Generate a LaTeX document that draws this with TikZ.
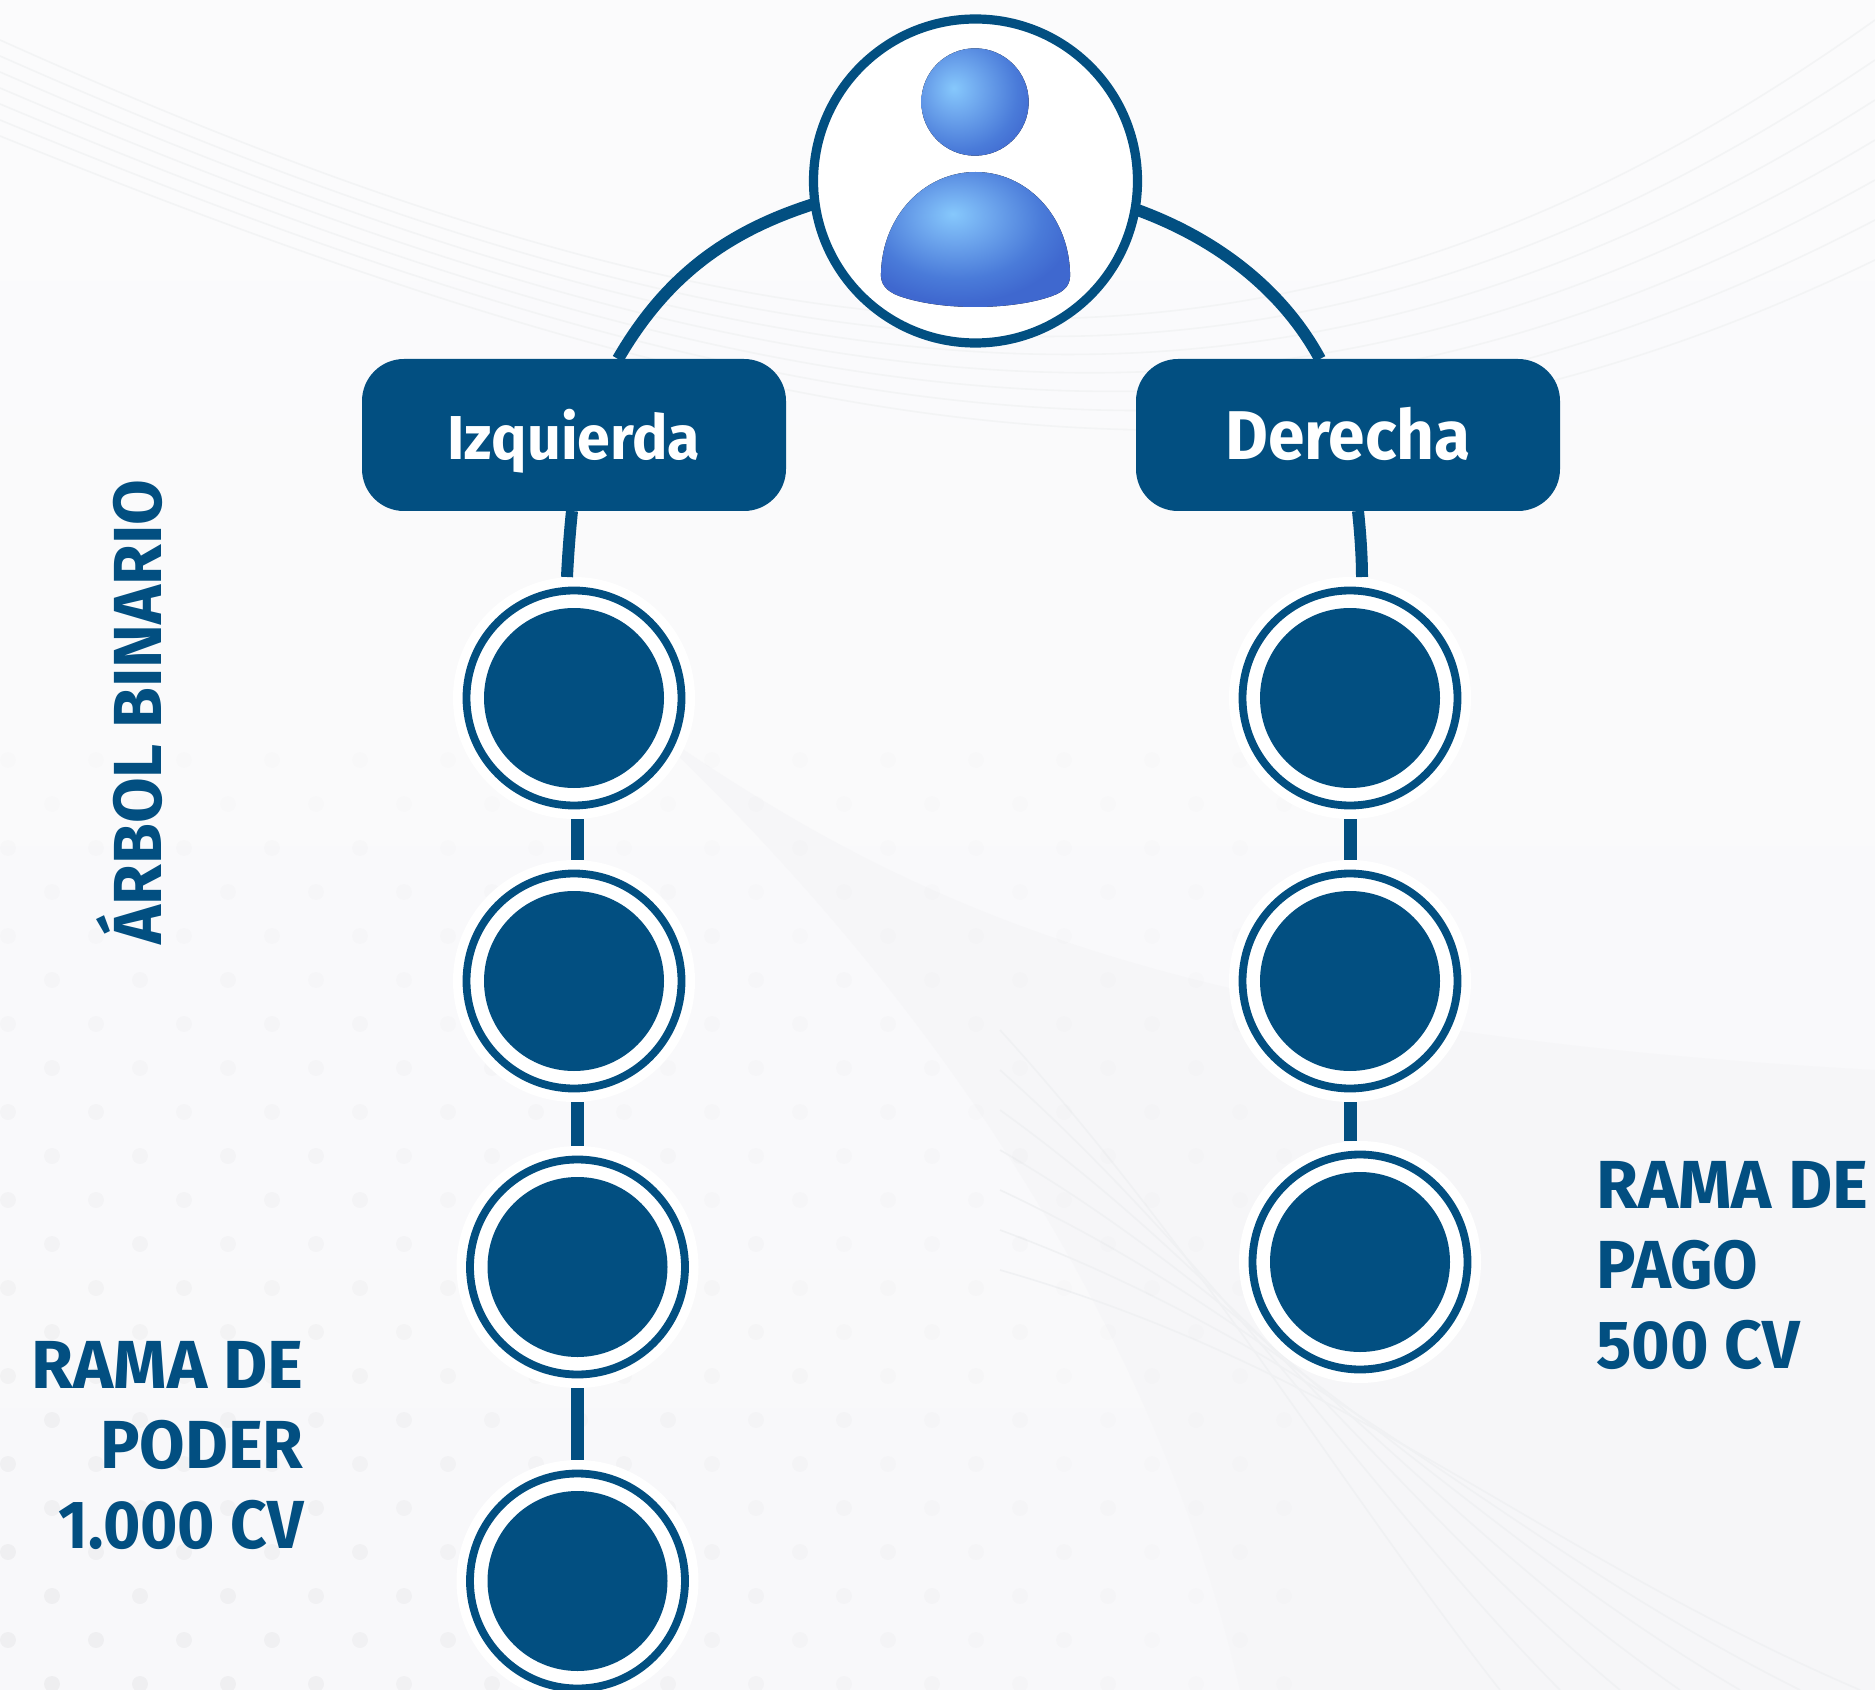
\documentclass[tikz,border=0pt]{standalone}
\usepackage{fontspec}
\newfontfamily\boxfont{Fira Sans Bold}[FakeStretch=0.955]
\newfontfamily\labelfont{Fira Sans Bold}[FakeStretch=0.97]
\newfontfamily\labelwide{Fira Sans Bold}[FakeStretch=1.0]
\newfontfamily\labelslim{Fira Sans Bold}[FakeStretch=0.94]
\newfontfamily\spinefont{Fira Sans Bold}[FakeStretch=0.973]
\usetikzlibrary{calc}
\definecolor{navy}{HTML}{024F81}
\definecolor{bgtop}{HTML}{FBFBFC}
\definecolor{bgbase}{HTML}{F8F8FA}
\definecolor{bgshade}{HTML}{F6F6F8}
\definecolor{bgline}{HTML}{F3F4F5}
\definecolor{bglineb}{HTML}{F0F1F3}
\definecolor{ballA}{HTML}{86C8FC}
\definecolor{ballB}{HTML}{6FA8EE}
\definecolor{ballC}{HTML}{4A7BD9}
\definecolor{ballD}{HTML}{3F68CF}
\pgfdeclareradialshading{headball}{\pgfpoint{-10bp}{6.5bp}}{color(0bp)=(ballA); color(11bp)=(ballB); color(27bp)=(ballC); color(36bp)=(ballD); color(100bp)=(ballD)}
\pgfdeclareradialshading{bodyball}{\pgfpoint{-6bp}{9.5bp}}{color(0bp)=(ballA); color(9bp)=(ballB); color(22bp)=(ballC); color(30bp)=(ballD); color(100bp)=(ballD)}
\tikzset{
  x=0.5pt,y=-0.5pt,
  usernode/.style={circle,draw=navy,line width=4.6pt,fill=white,minimum size=162pt,inner sep=0pt,outer sep=0pt},
  branchbox/.style={rectangle,rounded corners=21pt,fill=navy,text=white,minimum width=212pt,minimum height=76pt,inner sep=0pt,outer sep=0pt,text height=24.4pt,text depth=0pt},
  halo/.style={circle,fill=white,minimum size=121pt,inner sep=0pt,outer sep=0pt},
  ringline/.style={navy,line width=3.9pt},
  discfill/.style={fill=navy},
  curvelink/.style={navy,line width=6pt},
  straightlink/.style={navy,line width=6.5pt},
  sidelabel/.style={text=navy,inner sep=0pt,font=\labelfont\fontsize{34}{40}\selectfont},
}
\newcommand{\memberdisc}[2]{%
  \node[halo] (#1) at #2 {};
  \draw[ringline] #2 circle[radius=107.5];
  \fill[discfill] #2 circle[radius=90];
}
\begin{document}
\begin{tikzpicture}
\useasboundingbox (0,0) rectangle (1875,1690);
% background
\shade[top color=bgtop,bottom color=bgbase] (0,0) rectangle (1875,1690);
\fill[bgshade] (640,720) .. controls (900,900) and (1150,1030) .. (1875,1070) -- (1875,1690) -- (1240,1690) .. controls (1150,1300) and (900,960) .. (640,720) -- cycle;
\foreach \s in {0,...,6}{
  \draw[bgline,line width=.8pt] (1875,{20+40*\s}) .. controls (1300,{430+18*\s}) and (800,{400+10*\s}) .. (0,{40+16*\s});
  \draw[bglineb,line width=.8pt] (1000,{1030+40*\s}) .. controls ({1200+25*\s},{1250+20*\s}) and ({1350+30*\s},{1500+8*\s}) .. ({1500+60*\s},1690);
}
\foreach \r in {0,...,21}{
  \foreach \c in {0,...,14}{
    \pgfmathsetmacro{\dx}{mod(\r,2)*44+\c*88+8}
    \pgfmathsetmacro{\dy}{760+\r*44}
    \pgfmathsetmacro{\op}{0.008+0.03*(\r/21)*max(0,1-\c/13)}
    \fill[black,opacity=\op] (\dx,\dy) circle[radius=8];
  }
}
% nodes
\node[usernode] (user) at (975.5,181) {};
\fill[shading=headball] (975,102) circle[radius=53.7];
\fill[shading=bodyball] (881,272) .. controls (883,215) and (925,172) .. (975.5,172) .. controls (1026,172) and (1068,215) .. (1070,272) .. controls (1071,284) and (1066,291) .. (1052,296) .. controls (1030,304) and (1000,307) .. (975.5,307) .. controls (950,307) and (922,304) .. (899,296) .. controls (886,291) and (880,284) .. (881,272) -- cycle;
\node[branchbox,font=\boxfont\fontsize{31}{36}\selectfont] (izq) at (574,435) {Izquierda};
\node[branchbox,font=\boxfont\fontsize{34.5}{40}\selectfont] (der) at (1348,435) {Derecha};
\memberdisc{l1}{(574,698)}
\memberdisc{l2}{(574,981)}
\memberdisc{l3}{(577.5,1267)}
\memberdisc{l4}{(577.5,1581)}
\memberdisc{r1}{(1350,698)}
\memberdisc{r2}{(1350,981)}
\memberdisc{r3}{(1360,1262)}
% anchor points on the boxes
\coordinate (izqtop) at ($(izq.north)+(44,0)$);
\coordinate (dertop) at ($(der.north)+(-28,0)$);
\coordinate (izqfoot) at ($(izq.south)+(-2,0)$);
\coordinate (derfoot) at ($(der.south)+(10,0)$);
% connectors
\draw[curvelink] (user.188.4) .. controls (725,232) and (665,278) .. (izqtop);
\draw[curvelink] (user.-10.8) .. controls (1210,236) and (1280,285) .. (dertop);
\draw[curvelink] (izqfoot) .. controls (570,530) and (568,555) .. ($(l1.north)+(-7,0)$);
\draw[curvelink] (derfoot) .. controls (1360,530) and (1362,555) .. ($(r1.north)+(12,0)$);
\draw[straightlink] ($(l1.south)+(3,0)$) -- ($(l2.north)+(3,0)$);
\draw[straightlink] ($(l2.south)+(3,0)$) -- ($(l3.north)+(-.5,0)$);
\draw[straightlink] (l3.south) -- (l4.north);
\draw[straightlink] (r1.south) -- (r2.north);
\draw[straightlink] (r2.south) -- ($(r3.north)+(-10,0)$);
% labels
\node[sidelabel,align=right,anchor=north east] (poder) at (304,1341) {{\labelwide RAMA DE}\\PODER\\{\labelslim 1.000 CV}};
\node[sidelabel,align=left,anchor=north west] (pago) at (1596,1161) {{\labelwide RAMA DE}\\PAGO\\500 CV};
\node[sidelabel,font=\spinefont\fontsize{34}{40}\selectfont,rotate=90,anchor=base west] (arbol) at (161.5,945) {ÁRBOL BINARIO};
\end{tikzpicture}
\end{document}
